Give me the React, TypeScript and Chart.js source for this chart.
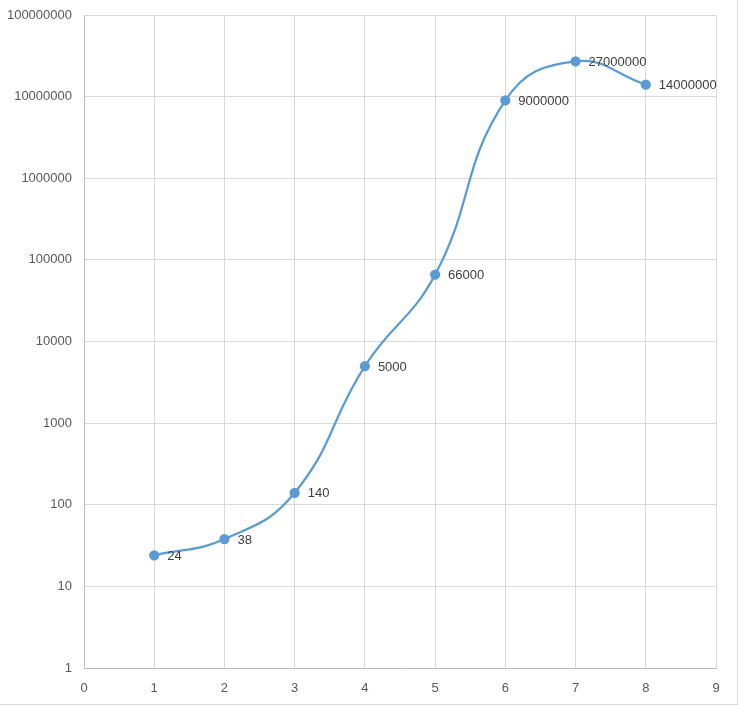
import React, { useEffect, useRef } from "react";
import { Chart, registerables } from "chart.js";

Chart.register(...registerables);

const xValues = [1, 2, 3, 4, 5, 6, 7, 8];
const yValues = [24, 38, 140, 5000, 66000, 9000000, 27000000, 14000000];
const yTicks = [1, 10, 100, 1000, 10000, 100000, 1000000, 10000000, 100000000];

const FONT = "'Liberation Sans', Arial, sans-serif";

const dataLabelPlugin = {
  id: "dataLabels",
  afterDatasetsDraw(chart: any) {
    const ctx = chart.ctx;
    const meta = chart.getDatasetMeta(0);
    ctx.save();
    ctx.font = `13px ${FONT}`;
    ctx.fillStyle = "#404040";
    ctx.textAlign = "left";
    ctx.textBaseline = "middle";
    meta.data.forEach((pt: any, i: number) => {
      ctx.fillText(String(yValues[i]), pt.x + 13, pt.y + 1);
    });
    ctx.restore();
  },
};

export default function App() {
  const ref = useRef<HTMLCanvasElement | null>(null);
  useEffect(() => {
    document.body.style.margin = "0";
    const chart = new Chart(ref.current!, {
      type: "line",
      data: {
        datasets: [
          {
            data: xValues.map((x, i) => ({ x, y: yValues[i] })),
            borderColor: "#5b9bd5",
            backgroundColor: "#5b9bd5",
            borderWidth: 2.25,
            pointRadius: 4,
            pointBackgroundColor: "#5b9bd5",
            pointBorderColor: "#5b9bd5",
            tension: 0.45,
            fill: false,
          },
        ],
      },
      options: {
        animation: false,
        responsive: false,
        layout: { padding: { left: 0, top: 15, right: 21, bottom: 0 } },
        plugins: { legend: { display: false }, tooltip: { enabled: false } },
        scales: {
          x: {
            type: "linear",
            min: 0,
            max: 9,
            ticks: {
              stepSize: 1,
              color: "#595959",
              font: { family: FONT, size: 13 },
              padding: 13,
            },
            grid: { color: "#d9d9d9", drawTicks: false, lineWidth: 1 },
            border: { color: "#bfbfbf", width: 1 },
            afterFit: (s: any) => {
              s.height = 36;
              s.paddingLeft = 0;
              s.paddingRight = 0;
            },
          },
          y: {
            type: "logarithmic",
            min: 1,
            max: 100000000,
            afterBuildTicks: (s: any) => {
              s.ticks = yTicks.map((v) => ({ value: v }));
            },
            ticks: {
              color: "#595959",
              font: { family: FONT, size: 13 },
              padding: 12,
              autoSkip: false,
              callback: (v: any) => String(v),
            },
            grid: { color: "#d9d9d9", drawTicks: false, lineWidth: 1 },
            border: { color: "#bfbfbf", width: 1 },
            afterFit: (s: any) => {
              s.width = 84;
              s.paddingTop = 0;
              s.paddingBottom = 0;
            },
          },
        },
      },
      plugins: [dataLabelPlugin],
    } as any);
    return () => chart.destroy();
  }, []);
  return (
    <div
      style={{
        position: "absolute",
        left: 0,
        top: 0,
        width: 738,
        height: 705,
        boxSizing: "border-box",
        borderRight: "1px solid #d9d9d9",
        borderBottom: "1px solid #d9d9d9",
        background: "#fff",
      }}
    >
      <canvas ref={ref} width={737} height={704} style={{ display: "block" }} />
    </div>
  );
}
